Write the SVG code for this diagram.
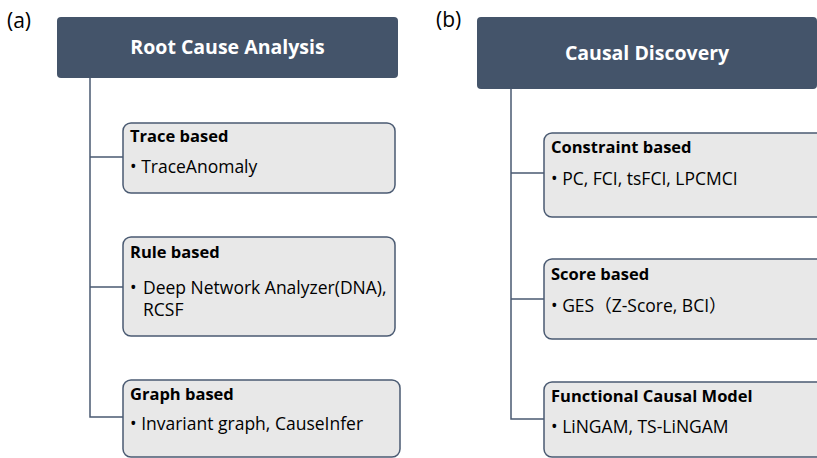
<svg xmlns="http://www.w3.org/2000/svg" width="817" height="458" viewBox="0 0 817 458">
<style>
.hdr{fill:#44546A;}
.box{fill:#E8E8E8;stroke:#4A5A72;stroke-width:1.5;}
.conn{fill:none;stroke:#4A5A72;stroke-width:1.5;}
.ht{font-family:"Open Sans","Noto Sans",sans-serif;font-weight:bold;font-size:19.5px;fill:#FFFFFF;text-anchor:middle;}
.tt{font-family:"Open Sans","Noto Sans",sans-serif;font-weight:bold;font-size:16.5px;fill:#000000;}
.bt{font-family:"Open Sans","Noto Sans","Noto Sans CJK SC",sans-serif;font-size:17.5px;fill:#000000;}
.lbl{font-family:"Open Sans","Noto Sans",sans-serif;font-size:21px;fill:#000000;}
</style>
<rect width="817" height="458" fill="#FFFFFF"/>
<g id="connectors">
<path class="conn" d="M90,78 V417 H123 M90,157 H123 M90,287 H123"/>
<path class="conn" d="M511,89 V419 H544 M511,173 H544 M511,299 H544"/>
</g>
<text class="lbl" x="7" y="28">(a)</text>
<text class="lbl" x="436" y="27">(b)</text>
<g id="rca">
<rect class="hdr" x="57" y="17" width="341" height="61" rx="4"/>
<text class="ht" x="227.5" y="54">Root Cause Analysis</text>
</g>
<g id="trace">
<rect class="box" x="123" y="123" width="272" height="70" rx="8"/>
<text class="tt" x="130" y="142">Trace based</text>
<text class="bt" x="130" y="173">• TraceAnomaly</text>
</g>
<g id="rule">
<rect class="box" x="123" y="237" width="272" height="99" rx="8"/>
<text class="tt" x="130" y="258">Rule based</text>
<text class="bt" x="130" y="294">•</text>
<text class="bt" x="143" y="294">Deep Network Analyzer(DNA),</text>
<text class="bt" x="143" y="316">RCSF</text>
</g>
<g id="graph">
<rect class="box" x="123" y="380" width="277" height="77" rx="8"/>
<text class="tt" x="130" y="400">Graph based</text>
<text class="bt" x="130" y="430">• Invariant graph, CauseInfer</text>
</g>
<g id="cd">
<rect class="hdr" x="477" y="17" width="340" height="72" rx="4"/>
<text class="ht" x="647" y="60">Causal Discovery</text>
</g>
<g id="constraint">
<rect class="box" x="544" y="133" width="290" height="84" rx="8"/>
<text class="tt" x="551" y="153">Constraint based</text>
<text class="bt" x="551" y="185">• PC, FCI, tsFCI, LPCMCI</text>
</g>
<g id="score">
<rect class="box" x="544" y="259" width="290" height="80" rx="8"/>
<text class="tt" x="551" y="280">Score based</text>
<text class="bt" x="551" y="312">• GES（Z-Score, BCI）</text>
</g>
<g id="fcm">
<rect class="box" x="544" y="382" width="290" height="75" rx="8"/>
<text class="tt" x="551" y="402">Functional Causal Model</text>
<text class="bt" x="551" y="433">• LiNGAM, TS-LiNGAM</text>
</g>
</svg>
